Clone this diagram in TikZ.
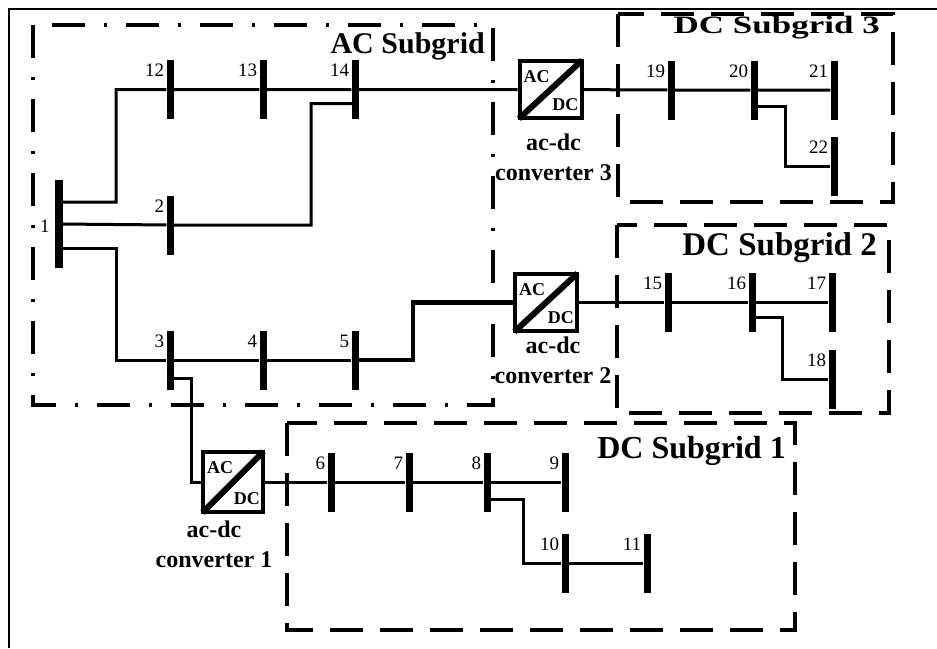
\documentclass[tikz,border=0pt]{standalone}
\usepackage{fontspec}
\setmainfont{Liberation Serif}
\usepackage{tikz}
\usetikzlibrary{positioning, calc}

\tikzset{
  bus/.style={rectangle, fill=black, inner sep=0pt, minimum width=7pt, minimum height=59pt},
  num/.style={anchor=base east, inner sep=0pt, font=\fontsize{19}{19}\selectfont},
  conv/.style={draw, line width=4pt, rectangle, inner sep=0pt, minimum width=62pt, minimum height=57pt},
  cvtxt/.style={inner sep=0pt, font=\bfseries\fontsize{18}{18}\selectfont},
  cvlbl/.style={anchor=north, inner sep=0pt, align=center, font=\bfseries\fontsize{24}{30}\selectfont},
  gridlbl/.style={anchor=base east, inner sep=0pt, font=\bfseries\fontsize{33}{33}\selectfont},
  wire/.style={line width=3pt},
  diag/.style={line width=6pt, shorten <=2pt, shorten >=2pt},
  dcbox/.style={line width=4pt, dash pattern=on 33pt off 17pt},
  acbox/.style={line width=4pt, dash pattern=on 33pt off 19pt on 3pt off 19pt},
}

\begin{document}
\begin{tikzpicture}[x=1pt, y=-1pt]
        \useasboundingbox (0,0) rectangle (937,648);
        % Frame
        \draw[line width=1.2pt] (9,648) -- (9,9) -- (937,9);

        % Subgrids
        \draw[acbox] (33,25) rectangle (493,405);
        \node[gridlbl, font=\bfseries\fontsize{30}{30}\selectfont] (acl) at (485,53) {AC Subgrid};
        \draw[dcbox] (618,14) rectangle (893,202);
        \node[gridlbl, font=\bfseries\fontsize{25}{25}\selectfont] (dc3l) at (880,33) {\scalebox{1.4}[1]{DC Subgrid 3}};
        \draw[dcbox] (617,225) rectangle (889,413);
        \node[gridlbl] (dc2l) at (877,255) {DC Subgrid 2};
        \draw[dcbox] (287,423) rectangle (795,630);
        \node[gridlbl, font=\bfseries\fontsize{32}{32}\selectfont] (dc1l) at (786,458) {DC Subgrid 1};

        % Buses
        \node[bus, minimum height=88pt, minimum width=8pt] (b1) at (59,224) {};
        \node[num] (n1) at ($(b1.west)+(-5,8)$) {1};
        \node[bus] (b2) at (170,225) {};
        \node[num] (n2) at ($(b2.north west)+(-2,17)$) {2};
        \node[bus] (b3) at (170,360) {};
        \node[num] (n3) at ($(b3.north west)+(-2,17)$) {3};
        \node[bus] (b4) at (263,360) {};
        \node[num] (n4) at ($(b4.north west)+(-2,17)$) {4};
        \node[bus] (b5) at (355,360) {};
        \node[num] (n5) at ($(b5.north west)+(-2,17)$) {5};
        \node[bus] (b6) at (331,482) {};
        \node[num] (n6) at ($(b6.north west)+(-2,17)$) {6};
        \node[bus] (b7) at (409,482) {};
        \node[num] (n7) at ($(b7.north west)+(-2,17)$) {7};
        \node[bus] (b8) at (487,482) {};
        \node[num] (n8) at ($(b8.north west)+(-2,17)$) {8};
        \node[bus] (b9) at (565,482) {};
        \node[num] (n9) at ($(b9.north west)+(-2,17)$) {9};
        \node[bus] (b10) at (565,563) {};
        \node[num] (n10) at ($(b10.north west)+(-2,17)$) {10};
        \node[bus] (b11) at (647,563) {};
        \node[num] (n11) at ($(b11.north west)+(-2,17)$) {11};
        \node[bus] (b12) at (170,89.5) {};
        \node[num] (n12) at ($(b12.north west)+(-2,17)$) {12};
        \node[bus] (b13) at (263,89.5) {};
        \node[num] (n13) at ($(b13.north west)+(-2,17)$) {13};
        \node[bus] (b14) at (355,89.5) {};
        \node[num] (n14) at ($(b14.north west)+(-2,17)$) {14};
        \node[bus] (b15) at (668,302.5) {};
        \node[num] (n15) at ($(b15.north west)+(-2,17)$) {15};
        \node[bus] (b16) at (752,302.5) {};
        \node[num] (n16) at ($(b16.north west)+(-2,17)$) {16};
        \node[bus] (b17) at (832,302.5) {};
        \node[num] (n17) at ($(b17.north west)+(-2,17)$) {17};
        \node[bus] (b18) at (832,379) {};
        \node[num] (n18) at ($(b18.north west)+(-2,17)$) {18};
        \node[bus] (b19) at (671,90) {};
        \node[num] (n19) at ($(b19.north west)+(-2,17)$) {19};
        \node[bus] (b20) at (754,90) {};
        \node[num] (n20) at ($(b20.north west)+(-2,17)$) {20};
        \node[bus] (b21) at (834,90) {};
        \node[num] (n21) at ($(b21.north west)+(-2,17)$) {21};
        \node[bus] (b22) at (834,166) {};
        \node[num] (n22) at ($(b22.north west)+(-2,17)$) {22};

        % Converters
        \node[conv] (c3) at (550.5,89.5) {};
        \draw[diag] (c3.south west) -- (c3.north east);
        \node[cvtxt, anchor=north west] (c3a) at ($(c3.north west)+(6,11)$) {AC};
        \node[cvtxt, anchor=south east] (c3d) at ($(c3.south east)+(-5,-9)$) {DC};
        \node[cvlbl] (t3) at ($(c3.south)+(3,14)$) {ac-dc\\converter 3};

        \node[conv] (c2) at (546,302.5) {};
        \draw[diag] (c2.south west) -- (c2.north east);
        \node[cvtxt, anchor=north west] (c2a) at ($(c2.north west)+(6,11)$) {AC};
        \node[cvtxt, anchor=south east] (c2d) at ($(c2.south east)+(-5,-9)$) {DC};
        \node[cvlbl] (t2) at ($(c2.south)+(7,4)$) {ac-dc\\converter 2};

        \node[conv, minimum width=60pt, minimum height=60pt] (c1) at (233,482) {};
        \draw[diag] (c1.south west) -- (c1.north east);
        \node[cvtxt, anchor=north west] (c1a) at ($(c1.north west)+(6,11)$) {AC};
        \node[cvtxt, anchor=south east] (c1d) at ($(c1.south east)+(-5,-9)$) {DC};
        \node[cvlbl] (t1) at ($(c1.south)+(-19,7)$) {ac-dc\\converter 1};

        % Lines
        \draw[wire] ($(b1)+(0,-22)$) -| ($(b12)+(-54,0)$) -- (b12) -- (b13) -- (b14) -- (c3) -- (b19) -- (b20) -- (b21);
        \draw[wire] (b1) -- (b2) -| ($(b14)+(-44,14)$) -- ($(b14)+(0,14)$);
        \draw[wire] ($(b1)+(0,24)$) -| ($(b3)+(-54,0)$) -- (b3) -- (b4) -- (b5);
        \draw[wire, line width=4.5pt] (b5) -| ($(c2.west)+(-100,0)$) -- (c2);
        \draw[wire] (c2) -- (b15) -- (b16) -- (b17);
        \draw[wire] ($(b3)+(0,18)$) -| ($(c1.west)+(-10,0)$) -- (c1) -- (b6) -- (b7) -- (b8) -- (b9);
        \draw[wire] ($(b8)+(0,17)$) -| ($(b10)+(-42,0)$) -- (b10) -- (b11);
        \draw[wire] ($(b20)+(0,16)$) -| ($(b22)+(-49,0)$) -- (b22);
        \draw[wire] ($(b16)+(0,15)$) -| ($(b18)+(-50,0)$) -- (b18);

    \end{tikzpicture}
\end{document}
